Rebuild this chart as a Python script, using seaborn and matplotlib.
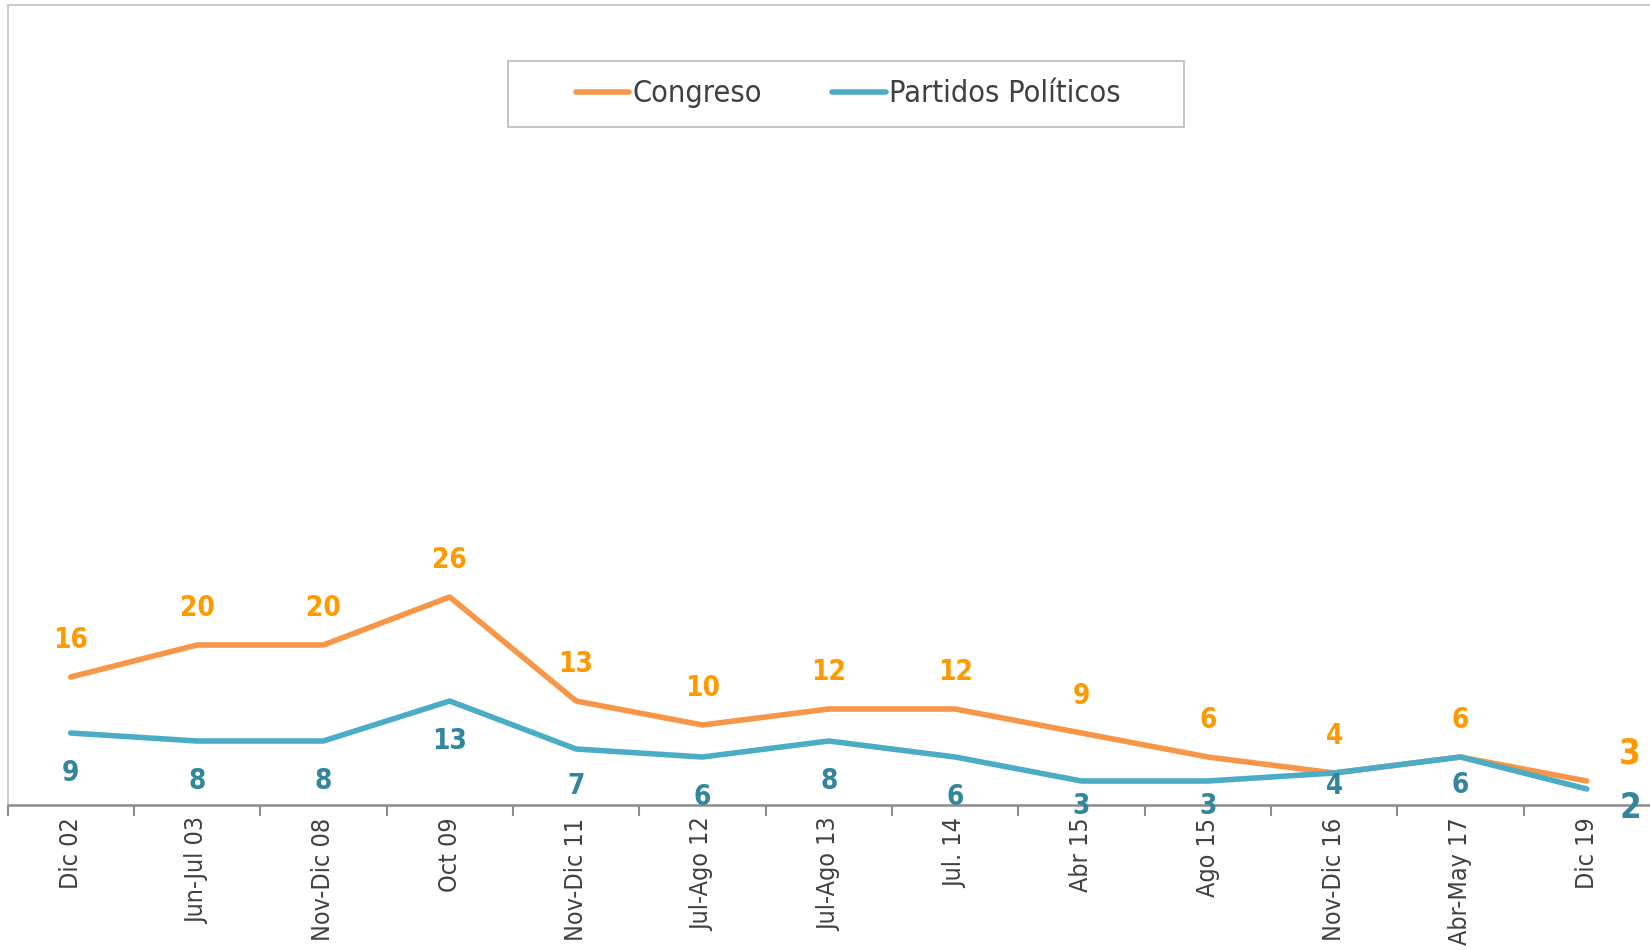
import numpy as np
import pandas as pd
import matplotlib
matplotlib.use("Agg")
import matplotlib.pyplot as plt
from matplotlib.patches import Rectangle
from matplotlib.ticker import FixedLocator
import seaborn as sns

# Data
periodos = ["Dic 02", "Jun-Jul 03", "Nov-Dic 08", "Oct 09", "Nov-Dic 11", "Jul-Ago 12",
            "Jul-Ago 13", "Jul. 14", "Abr 15", "Ago 15", "Nov-Dic 16", "Abr-May 17", "Dic 19"]
congreso = [16, 20, 20, 26, 13, 10, 12, 12, 9, 6, 4, 6, 3]
partidos = [9, 8, 8, 13, 7, 6, 8, 6, 3, 3, 4, 6, 2]

pos = np.arange(len(periodos))
df = pd.concat([
    pd.DataFrame({"pos": pos, "valor": congreso, "serie": "Congreso"}),
    pd.DataFrame({"pos": pos, "valor": partidos, "serie": "Partidos Políticos"}),
])

sns.set_style("white")
plt.rcParams["font.family"] = ["DejaVu Sans"]
plt.rcParams["font.stretch"] = "condensed"

c_orange, c_teal = "#F79646", "#4BACC6"
lab_orange, lab_teal = "#FF9900", "#31859C"

fig = plt.figure(figsize=(16.5, 9.5), dpi=100)
ax = fig.add_axes([7.5 / 1650, 145 / 950, 1 - 7.5 / 1650, 800 / 950])

sns.lineplot(data=df, x="pos", y="valor", hue="serie",
             palette={"Congreso": c_orange, "Partidos Políticos": c_teal},
             linewidth=4, sort=False, legend=False, ax=ax)

ax.set_xlim(-0.5, 12.5)
ax.set_ylim(0, 100)
ax.set_xlabel("")
ax.set_ylabel("")
ax.set_yticks([])

ax.set_xticks(pos)
ax.set_xticklabels(periodos, rotation=90, fontsize=18, color="#404040", va="top")
ax.tick_params(axis="x", which="major", length=0, pad=9)
ax.xaxis.set_minor_locator(FixedLocator(np.arange(-0.5, 12.0, 1.0)))
ax.tick_params(axis="x", which="minor", bottom=True, length=8, width=1.5,
               color="#8c8c8c", direction="out")

for side in ["top", "left", "right"]:
    ax.spines[side].set_color("#cfcfcf")
    ax.spines[side].set_linewidth(1.5)
ax.spines["right"].set_visible(False)
ax.spines["bottom"].set_color("#8c8c8c")
ax.spines["bottom"].set_linewidth(1.8)

# data labels
teal_off = [-29, -29, -29, -29, -27, -29, -29, -29, -18, -18, -9, -20]
for i in range(len(periodos) - 1):
    ax.annotate(str(congreso[i]), (pos[i], congreso[i]), xytext=(0, 26.5),
                textcoords="offset points", ha="center", va="center",
                fontsize=20, fontweight="bold", color=lab_orange)
    ax.annotate(str(partidos[i]), (pos[i], partidos[i]), xytext=(0, teal_off[i]),
                textcoords="offset points", ha="center", va="center",
                fontsize=20, fontweight="bold", color=lab_teal)
ax.annotate(str(congreso[-1]), (pos[-1], congreso[-1]), xytext=(31, 20),
            textcoords="offset points", ha="center", va="center",
            fontsize=25, fontweight="bold", color=lab_orange, annotation_clip=False)
ax.annotate(str(partidos[-1]), (pos[-1], partidos[-1]), xytext=(31, -14),
            textcoords="offset points", ha="center", va="center",
            fontsize=25, fontweight="bold", color=lab_teal, annotation_clip=False)

# legend
handles = [plt.Line2D([], [], color=c_orange, lw=4, solid_capstyle="round"),
           plt.Line2D([], [], color=c_teal, lw=4, solid_capstyle="round")]
fig.legend(handles, ["Congreso", "Partidos Políticos"], loc="center",
           bbox_to_anchor=(848 / 1650, 1 - 94 / 950), ncol=2, frameon=False,
           fontsize=22, handlelength=1.75, handletextpad=0.1, columnspacing=2.3,
           labelcolor="#404040")
fig.add_artist(Rectangle((508 / 1650, 1 - 127 / 950), 676 / 1650, 66 / 950,
                         transform=fig.transFigure, fill=False,
                         edgecolor="#bfbfbf", linewidth=1.3))

fig.savefig("out.png", dpi=100)
